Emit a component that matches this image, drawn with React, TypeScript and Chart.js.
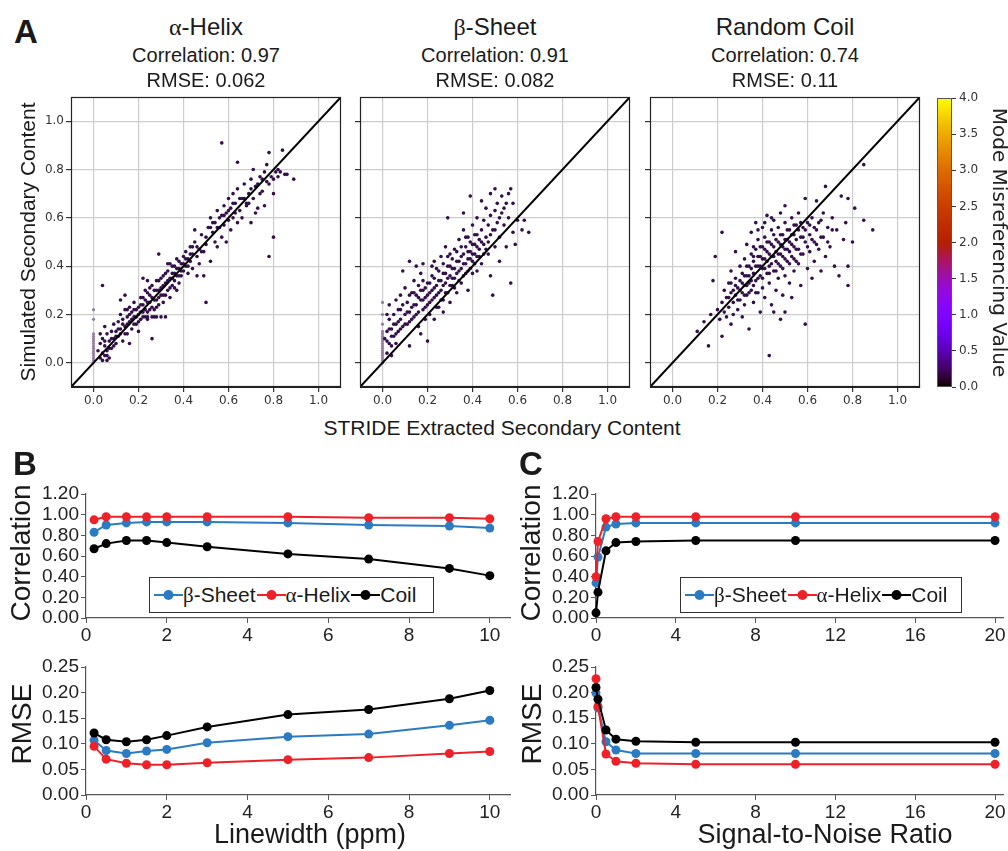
import React, { useEffect, useRef } from "react";
import { Chart, registerables } from "chart.js";
Chart.register(...registerables);

// ---------------- data ----------------
const scatterTicks = [0, 0.2, 0.4, 0.6, 0.8, 1.0];
const diagonal = [-0.1, 1.1];
const colorbarTicks = [0, 0.5, 1, 1.5, 2, 2.5, 3, 3.5, 4];
const colorbarRange = [0, 4];

const helixZeroY = [0.0, 0.01, 0.02, 0.03, 0.04, 0.05, 0.06, 0.07, 0.08, 0.09, 0.1, 0.11, 0.12, 0.18, 0.22];
const helixPoints = [
  [0.02,0.05],[0.03,0.02],[0.03,0.08],[0.04,0.04],[0.04,0.10],[0.05,0.03],[0.05,0.07],[0.06,0.12],[0.06,0.05],[0.07,0.09],
  [0.07,0.02],[0.08,0.13],[0.08,0.06],[0.09,0.10],[0.09,0.16],[0.10,0.08],[0.10,0.13],[0.05,0.15],[0.03,0.12],[0.04,0.01],
  [0.06,0.01],[0.04,0.32],
  [0.11,0.17],[0.11,0.11],[0.12,0.14],[0.12,0.20],[0.13,0.09],[0.13,0.18],[0.14,0.15],[0.14,0.22],[0.15,0.12],[0.15,0.19],
  [0.16,0.17],[0.16,0.23],[0.17,0.14],[0.17,0.21],[0.18,0.19],[0.18,0.25],[0.19,0.16],[0.19,0.22],[0.20,0.20],[0.20,0.13],
  [0.12,0.26],[0.16,0.08],[0.14,0.28],
  [0.21,0.24],[0.21,0.18],[0.22,0.27],[0.22,0.21],[0.23,0.19],[0.23,0.30],[0.24,0.25],[0.24,0.18],[0.25,0.28],[0.25,0.22],
  [0.26,0.19],[0.26,0.32],[0.27,0.26],[0.27,0.19],[0.28,0.30],[0.28,0.23],[0.29,0.34],[0.29,0.27],[0.30,0.19],[0.30,0.31],
  [0.31,0.25],[0.31,0.36],[0.26,0.10],[0.29,0.45],[0.22,0.35],[0.24,0.34],[0.22,0.19],[0.24,0.19],[0.28,0.19],[0.32,0.19],
  [0.32,0.33],[0.32,0.28],[0.33,0.38],[0.33,0.30],[0.34,0.35],[0.34,0.41],[0.35,0.32],[0.35,0.37],[0.36,0.40],[0.36,0.34],
  [0.37,0.36],[0.37,0.43],[0.38,0.39],[0.38,0.33],[0.39,0.41],[0.39,0.36],[0.40,0.38],[0.40,0.44],[0.34,0.27],[0.37,0.30],
  [0.41,0.46],[0.41,0.40],[0.42,0.43],[0.42,0.37],[0.43,0.48],[0.43,0.42],[0.44,0.45],[0.44,0.39],[0.45,0.50],[0.45,0.55],
  [0.46,0.44],[0.46,0.36],[0.47,0.47],[0.47,0.41],[0.48,0.53],[0.49,0.46],[0.49,0.36],[0.50,0.25],[0.50,0.49],[0.51,0.56],
  [0.52,0.42],
  [0.52,0.60],[0.53,0.54],[0.54,0.50],[0.54,0.58],[0.55,0.63],[0.55,0.48],[0.56,0.56],[0.57,0.61],[0.57,0.52],[0.58,0.65],
  [0.58,0.57],[0.59,0.62],[0.60,0.59],[0.60,0.68],[0.57,0.91],[0.59,0.50],
  [0.61,0.64],[0.61,0.55],[0.62,0.70],[0.62,0.60],[0.63,0.66],[0.64,0.58],[0.64,0.72],[0.65,0.63],[0.66,0.68],[0.66,0.60],
  [0.67,0.74],[0.68,0.65],[0.69,0.70],[0.70,0.58],[0.70,0.76],[0.71,0.68],[0.71,0.80],[0.72,0.73],[0.73,0.64],[0.74,0.77],
  [0.75,0.71],[0.76,0.79],[0.76,0.65],[0.77,0.82],[0.78,0.44],[0.78,0.74],[0.79,0.77],[0.80,0.52],[0.80,0.70],[0.81,0.79],
  [0.82,0.80],[0.83,0.79],[0.84,0.88],[0.85,0.78],[0.86,0.78],[0.89,0.76],[0.78,0.87],[0.64,0.83],[0.68,0.66],[0.72,0.62],
  [0.05,0.09],[0.06,0.03],[0.07,0.06],[0.08,0.10],[0.09,0.07],[0.10,0.11],[0.11,0.14],[0.12,0.12],[0.13,0.16],[0.14,0.12],
  [0.15,0.16],[0.15,0.22],[0.16,0.20],[0.17,0.18],[0.18,0.16],[0.18,0.22],[0.19,0.19],[0.20,0.23],[0.20,0.17],[0.21,0.21],
  [0.21,0.27],[0.22,0.24],[0.23,0.22],[0.23,0.26],[0.24,0.21],[0.24,0.29],[0.25,0.25],[0.25,0.31],[0.26,0.23],[0.26,0.27],
  [0.27,0.30],[0.27,0.22],[0.28,0.26],[0.28,0.34],[0.29,0.30],[0.29,0.24],[0.30,0.28],[0.30,0.35],[0.31,0.32],[0.31,0.28],
  [0.32,0.37],[0.33,0.34],[0.33,0.41],[0.34,0.31],[0.35,0.40],[0.35,0.35],[0.36,0.37],[0.36,0.31],[0.37,0.39],[0.38,0.42],
  [0.38,0.36],[0.39,0.38],[0.40,0.41],[0.41,0.43],[0.42,0.40],[0.43,0.45],[0.44,0.48],[0.46,0.48],[0.48,0.46],[0.50,0.52],
  [0.52,0.56],[0.53,0.58],[0.55,0.56],[0.56,0.60],[0.58,0.61],[0.60,0.63],[0.62,0.66],[0.63,0.62],[0.65,0.68],[0.67,0.68],
  [0.69,0.66],[0.70,0.72],[0.73,0.74],[0.74,0.70],[0.75,0.76],[0.77,0.75],[0.80,0.76],[0.82,0.77],
];

const sheetZeroY = [0.0, 0.01, 0.02, 0.03, 0.04, 0.05, 0.06, 0.07, 0.08, 0.09, 0.1, 0.11, 0.12, 0.13, 0.16, 0.2, 0.25];
const sheetPoints = [
  [0.01,0.10],[0.02,0.04],[0.02,0.13],[0.03,0.08],[0.03,0.18],[0.04,0.07],[0.04,0.14],[0.05,0.11],[0.05,0.20],[0.06,0.16],
  [0.06,0.08],[0.07,0.22],[0.07,0.13],[0.08,0.18],[0.08,0.28],[0.09,0.15],[0.09,0.24],[0.10,0.20],[0.10,0.31],[0.04,0.03],
  [0.02,0.20],[0.09,0.38],[0.03,0.24],[0.06,0.26],
  [0.11,0.25],[0.11,0.16],[0.12,0.21],[0.12,0.42],[0.12,0.07],[0.13,0.29],[0.13,0.18],[0.14,0.24],[0.14,0.34],[0.15,0.20],
  [0.15,0.28],[0.16,0.15],[0.16,0.32],[0.17,0.26],[0.17,0.12],[0.17,0.37],[0.18,0.22],[0.18,0.30],[0.19,0.27],[0.19,0.18],
  [0.20,0.33],[0.20,0.24],[0.20,0.09],[0.15,0.40],[0.18,0.41],
  [0.21,0.29],[0.21,0.20],[0.22,0.36],[0.22,0.26],[0.23,0.31],[0.23,0.18],[0.24,0.39],[0.24,0.28],[0.25,0.34],[0.25,0.23],
  [0.26,0.44],[0.26,0.30],[0.27,0.37],[0.27,0.26],[0.28,0.33],[0.28,0.48],[0.29,0.40],[0.29,0.29],[0.29,0.60],[0.30,0.36],
  [0.30,0.45],[0.30,0.25],[0.27,0.21],[0.23,0.42],
  [0.31,0.39],[0.31,0.32],[0.32,0.47],[0.32,0.35],[0.33,0.42],[0.33,0.29],[0.34,0.51],[0.34,0.38],[0.35,0.44],[0.35,0.33],
  [0.36,0.41],[0.36,0.62],[0.36,0.55],[0.37,0.48],[0.37,0.37],[0.38,0.52],[0.38,0.43],[0.38,0.30],[0.39,0.69],[0.39,0.46],
  [0.39,0.39],[0.40,0.49],[0.40,0.42],[0.40,0.57],
  [0.41,0.53],[0.41,0.45],[0.42,0.60],[0.42,0.48],[0.42,0.38],[0.43,0.51],[0.43,0.44],[0.44,0.67],[0.44,0.55],[0.44,0.41],
  [0.45,0.49],[0.45,0.59],[0.46,0.64],[0.46,0.52],[0.47,0.45],[0.47,0.57],[0.48,0.61],[0.48,0.36],[0.49,0.55],[0.49,0.28],
  [0.50,0.72],[0.50,0.63],[0.50,0.48],
  [0.51,0.58],[0.51,0.66],[0.52,0.52],[0.53,0.62],[0.53,0.69],[0.54,0.57],[0.55,0.48],[0.55,0.66],[0.56,0.60],[0.56,0.70],
  [0.57,0.72],[0.57,0.33],[0.58,0.54],[0.58,0.66],[0.59,0.49],[0.60,0.59],[0.62,0.55],[0.63,0.59],[0.65,0.54],[0.52,0.42],
  [0.48,0.70],
  [0.02,0.09],[0.03,0.14],[0.04,0.11],[0.05,0.16],[0.06,0.12],[0.07,0.17],[0.08,0.14],[0.08,0.22],[0.10,0.16],[0.11,0.21],
  [0.12,0.17],[0.12,0.28],[0.13,0.23],[0.14,0.19],[0.14,0.29],[0.15,0.24],[0.16,0.27],[0.16,0.21],[0.17,0.30],[0.18,0.26],
  [0.18,0.34],[0.19,0.23],[0.19,0.31],[0.20,0.28],[0.21,0.33],[0.21,0.25],[0.22,0.30],[0.22,0.40],[0.23,0.27],[0.23,0.35],
  [0.24,0.32],[0.24,0.23],[0.25,0.38],[0.25,0.29],[0.26,0.34],[0.26,0.26],[0.27,0.32],[0.27,0.41],[0.28,0.37],[0.28,0.29],
  [0.29,0.35],[0.29,0.44],[0.30,0.32],[0.30,0.40],[0.31,0.35],[0.31,0.43],[0.32,0.39],[0.32,0.31],[0.33,0.46],[0.33,0.37],
  [0.34,0.42],[0.34,0.34],[0.35,0.48],[0.35,0.39],[0.36,0.45],[0.36,0.36],[0.37,0.41],[0.37,0.52],[0.38,0.46],[0.38,0.38],
  [0.39,0.43],[0.39,0.50],[0.40,0.45],[0.40,0.37],[0.41,0.49],[0.41,0.41],[0.42,0.44],[0.42,0.53],[0.43,0.47],[0.44,0.50],
  [0.45,0.45],[0.46,0.47],[0.47,0.50],[0.48,0.53],[0.50,0.55],[0.52,0.60],[0.54,0.64],
];

const coilPoints = [
  [0.11,0.13],[0.14,0.17],[0.16,0.07],[0.17,0.20],[0.18,0.34],[0.19,0.44],[0.20,0.22],[0.21,0.18],[0.22,0.54],[0.22,0.11],
  [0.22,0.25],[0.23,0.30],[0.23,0.21],[0.24,0.27],[0.24,0.19],[0.25,0.33],[0.25,0.23],[0.26,0.29],[0.26,0.16],[0.26,0.38],
  [0.27,0.25],[0.27,0.20],[0.28,0.35],[0.28,0.28],[0.28,0.46],[0.29,0.31],[0.29,0.22],[0.30,0.40],[0.30,0.26],[0.30,0.34],
  [0.31,0.29],[0.31,0.37],[0.31,0.19],[0.32,0.43],[0.32,0.32],[0.32,0.24],[0.33,0.36],[0.33,0.28],[0.33,0.49],[0.34,0.40],
  [0.34,0.33],[0.34,0.14],[0.35,0.45],[0.35,0.30],[0.35,0.54],[0.36,0.37],[0.36,0.42],[0.36,0.25],[0.37,0.47],[0.37,0.34],
  [0.37,0.58],[0.38,0.40],[0.38,0.29],[0.38,0.51],[0.39,0.44],[0.39,0.36],[0.39,0.21],[0.40,0.48],[0.40,0.39],[0.40,0.56],
  [0.40,0.31],[0.41,0.43],[0.41,0.52],[0.41,0.27],[0.42,0.46],[0.42,0.37],[0.42,0.61],[0.43,0.50],[0.43,0.40],[0.43,0.03],
  [0.43,0.33],[0.44,0.55],[0.44,0.44],[0.44,0.24],[0.45,0.48],[0.45,0.38],[0.45,0.59],[0.46,0.42],[0.46,0.51],[0.46,0.30],
  [0.47,0.56],[0.47,0.45],[0.47,0.35],[0.48,0.49],[0.48,0.62],[0.48,0.40],[0.49,0.53],[0.49,0.44],[0.49,0.28],[0.50,0.47],
  [0.50,0.58],[0.50,0.65],[0.50,0.36],[0.51,0.51],[0.51,0.42],[0.52,0.55],[0.52,0.46],[0.52,0.33],[0.53,0.60],[0.53,0.49],
  [0.54,0.43],[0.54,0.53],[0.54,0.38],[0.55,0.57],[0.55,0.47],[0.56,0.62],[0.56,0.41],[0.57,0.52],[0.57,0.32],[0.58,0.56],
  [0.58,0.45],[0.59,0.68],[0.59,0.16],[0.59,0.50],[0.60,0.58],[0.60,0.39],[0.61,0.53],[0.61,0.46],[0.62,0.60],[0.62,0.35],
  [0.63,0.50],[0.63,0.42],[0.64,0.67],[0.64,0.55],[0.65,0.47],[0.66,0.38],[0.66,0.59],[0.67,0.52],[0.68,0.73],[0.68,0.44],
  [0.69,0.56],[0.70,0.48],[0.71,0.60],[0.72,0.40],[0.73,0.55],[0.74,0.36],[0.75,0.69],[0.76,0.51],[0.77,0.58],[0.78,0.40],
  [0.78,0.32],[0.78,0.68],[0.80,0.50],[0.81,0.64],[0.85,0.59],[0.85,0.82],[0.89,0.55],[0.50,0.21],[0.53,0.27],[0.48,0.18],
  [0.45,0.21],
  [0.28,0.32],[0.29,0.26],[0.30,0.30],[0.31,0.33],[0.32,0.28],[0.32,0.36],[0.33,0.32],[0.33,0.40],[0.34,0.36],[0.34,0.29],
  [0.35,0.39],[0.35,0.34],[0.36,0.44],[0.36,0.32],[0.37,0.40],[0.37,0.29],[0.38,0.44],[0.38,0.35],[0.39,0.48],[0.39,0.40],
  [0.40,0.43],[0.40,0.35],[0.41,0.47],[0.41,0.39],[0.42,0.50],[0.42,0.42],[0.43,0.45],[0.43,0.37],[0.44,0.49],[0.44,0.41],
  [0.45,0.53],[0.45,0.44],[0.46,0.46],[0.46,0.38],[0.47,0.50],[0.47,0.41],[0.48,0.53],[0.48,0.45],[0.49,0.48],[0.49,0.39],
  [0.50,0.51],[0.50,0.43],[0.51,0.55],[0.51,0.47],[0.52,0.50],[0.52,0.41],[0.53,0.53],[0.53,0.44],[0.54,0.57],[0.54,0.48],
  [0.55,0.51],[0.55,0.42],[0.56,0.55],[0.56,0.47],[0.57,0.58],[0.57,0.45],[0.58,0.52],[0.59,0.55],[0.60,0.48],[0.61,0.57],
  [0.62,0.51],[0.63,0.56],[0.64,0.49],[0.65,0.58],[0.66,0.52],[0.67,0.62],[0.69,0.50],[0.71,0.55],[0.36,0.48],[0.38,0.55],
  [0.41,0.58],[0.44,0.60],[0.26,0.33],[0.27,0.30],[0.25,0.27],
];

const linewidths = [0.2, 0.5, 1, 1.5, 2, 3, 5, 7, 9, 10];
const lwCorrSheet = [0.83, 0.90, 0.92, 0.93, 0.93, 0.93, 0.92, 0.90, 0.89, 0.87];
const lwCorrHelix = [0.95, 0.98, 0.98, 0.98, 0.98, 0.98, 0.98, 0.97, 0.97, 0.96];
const lwCorrCoil = [0.67, 0.72, 0.75, 0.75, 0.73, 0.69, 0.62, 0.57, 0.48, 0.41];
const lwRmseSheet = [0.107, 0.087, 0.081, 0.086, 0.089, 0.102, 0.114, 0.119, 0.136, 0.146];
const lwRmseHelix = [0.095, 0.070, 0.062, 0.059, 0.059, 0.063, 0.069, 0.073, 0.081, 0.085];
const lwRmseCoil = [0.121, 0.108, 0.104, 0.108, 0.116, 0.133, 0.157, 0.167, 0.188, 0.204];

const snr = [0, 0.1, 0.5, 1, 2, 5, 10, 20];
const snrCorrSheet = [0.34, 0.59, 0.88, 0.91, 0.92, 0.92, 0.92, 0.92];
const snrCorrHelix = [0.40, 0.74, 0.96, 0.98, 0.98, 0.98, 0.98, 0.98];
const snrCorrCoil = [0.05, 0.25, 0.65, 0.73, 0.74, 0.75, 0.75, 0.75];
const snrRmseSheet = [0.199, 0.170, 0.104, 0.088, 0.081, 0.081, 0.081, 0.081];
const snrRmseHelix = [0.227, 0.173, 0.080, 0.066, 0.062, 0.060, 0.060, 0.060];
const snrRmseCoil = [0.210, 0.187, 0.127, 0.109, 0.105, 0.103, 0.103, 0.103];

const lwTicks = [0, 2, 4, 6, 8, 10];
const snrTicks = [0, 4, 8, 12, 16, 20];
const corrTicks = [0, 0.2, 0.4, 0.6, 0.8, 1.0, 1.2];
const rmseTicks = [0, 0.05, 0.1, 0.15, 0.2, 0.25];

const seriesNames = ["β-Sheet", "α-Helix", "Coil"];
const seriesColors = ["#2b7bc3", "#ee2128", "#000000"];

// ---------------- helpers ----------------
const SANS = "'Liberation Sans', Arial, Helvetica, sans-serif";
const DEJAVU = "'DejaVu Sans', sans-serif";

type Box = { x: number; y: number; w: number; h: number };
type Area = { l: number; t: number; r: number; b: number };

function gnuplot(t: number) {
  const r = Math.sqrt(t);
  const g = t * t * t;
  const b = Math.max(0, Math.sin(2 * Math.PI * t));
  return `rgb(${Math.round(r * 255)},${Math.round(g * 255)},${Math.round(b * 255)})`;
}

const framePlugin = (color: string, width: number) => ({
  id: "frame",
  afterDatasetsDraw(chart: any) {
    const { ctx, chartArea: a } = chart;
    ctx.save();
    ctx.strokeStyle = color;
    ctx.lineWidth = width;
    ctx.strokeRect(a.left + 0.5, a.top + 0.5, a.right - a.left - 1, a.bottom - a.top - 1);
    ctx.restore();
  },
});

function fitScales(box: Box, area: Area) {
  return {
    padding: { left: 0, top: area.t - box.y, right: box.x + box.w - area.r, bottom: 0 },
    yW: area.l - box.x,
    xH: box.y + box.h - area.b,
  };
}

function scatterConfig(box: Box, area: Area, points: number[][], zeroY: number[], yLabels: boolean) {
  const f = fitScales(box, area);
  const tickFont = { family: DEJAVU, size: 12 };
  return {
    type: "scatter",
    data: {
      datasets: [
        {
          data: diagonal.map((v) => ({ x: v, y: v })),
          showLine: true,
          borderColor: "#000",
          borderWidth: 2,
          pointRadius: 0,
          order: 0,
        },
        {
          data: points.map(([x, y]) => ({ x, y })),
          pointRadius: 1.8,
          backgroundColor: "#34104a",
          borderWidth: 0,
          order: 1,
        },
        {
          data: zeroY.map((y) => ({ x: 0, y })),
          pointRadius: 1.6,
          backgroundColor: "rgba(140,118,150,0.9)",
          borderWidth: 0,
          order: 2,
        },
      ],
    },
    options: {
      animation: false,
      responsive: false,
      devicePixelRatio: 1,
      layout: { padding: f.padding },
      plugins: { legend: { display: false }, tooltip: { enabled: false } },
      scales: {
        x: {
          type: "linear",
          min: -0.1,
          max: 1.1,
          afterBuildTicks: (s: any) => {
            s.ticks = scatterTicks.map((v) => ({ value: v }));
          },
          afterFit: (s: any) => {
            s.height = f.xH;
            s.paddingLeft = 0;
            s.paddingRight = 0;
          },
          ticks: { callback: (v: any) => Number(v).toFixed(1), font: tickFont, color: "#333", padding: 2, maxRotation: 0, autoSkip: false },
          grid: { color: "#cdcdcd", lineWidth: 1.2, tickLength: 5, tickColor: "#333" },
          border: { color: "#222", width: 1 },
        },
        y: {
          type: "linear",
          min: -0.1,
          max: 1.1,
          afterBuildTicks: (s: any) => {
            s.ticks = scatterTicks.map((v) => ({ value: v }));
          },
          afterFit: (s: any) => {
            s.width = f.yW;
            s.paddingTop = 0;
            s.paddingBottom = 0;
          },
          ticks: {
            callback: (v: any) => (yLabels ? Number(v).toFixed(1) : ""),
            font: tickFont,
            color: "#333",
            padding: 2,
            autoSkip: false,
          },
          grid: { color: "#cdcdcd", lineWidth: 1.2, tickLength: 5, tickColor: "#333" },
          border: { color: "#222", width: 1 },
        },
      },
    },
    plugins: [framePlugin("#222", 1.2)],
  };
}

function colorbarConfig(box: Box, area: Area) {
  return {
    type: "bar",
    data: {
      labels: [""],
      datasets: [
        {
          data: [colorbarRange],
          barPercentage: 1,
          categoryPercentage: 1,
          borderWidth: 0,
          backgroundColor: (ctx: any) => {
            const ca = ctx.chart.chartArea;
            if (!ca) return "#000";
            const g = ctx.chart.ctx.createLinearGradient(0, ca.bottom, 0, ca.top);
            for (let i = 0; i <= 48; i++) g.addColorStop(i / 48, gnuplot(i / 48));
            return g;
          },
        },
      ],
    },
    options: {
      animation: false,
      responsive: false,
      devicePixelRatio: 1,
      layout: { padding: { left: area.l - box.x, top: area.t - box.y, bottom: box.y + box.h - area.b, right: 0 } },
      plugins: { legend: { display: false }, tooltip: { enabled: false } },
      scales: {
        x: { display: false },
        y: {
          position: "right",
          min: 0,
          max: 4,
          afterBuildTicks: (s: any) => {
            s.ticks = colorbarTicks.map((v) => ({ value: v }));
          },
          afterFit: (s: any) => {
            s.width = box.x + box.w - area.r;
            s.paddingTop = 0;
            s.paddingBottom = 0;
          },
          ticks: { callback: (v: any) => Number(v).toFixed(1), font: { family: DEJAVU, size: 12 }, color: "#333", padding: 3, autoSkip: false },
          grid: { drawOnChartArea: false, tickLength: 4, tickColor: "#333" },
          border: { display: false },
          title: {
            display: true,
            text: "Mode Misreferencing Value",
            font: { family: DEJAVU, size: 20, lineHeight: 1 },
            color: "#222",
            padding: 0,
          },
        },
      },
    },
    plugins: [framePlugin("#555", 1)],
  };
}

function lineConfig(
  box: Box,
  area: Area,
  xs: number[],
  series: number[][],
  xMax: number,
  xTicks: number[],
  yMax: number,
  yTicks: number[]
) {
  const f = fitScales(box, area);
  const tickFont = { family: SANS, size: 19 };
  return {
    type: "scatter",
    data: {
      datasets: series.map((ys, i) => ({
        label: seriesNames[i],
        data: xs.map((x, j) => ({ x, y: ys[j] })),
        showLine: true,
        borderColor: seriesColors[i],
        backgroundColor: seriesColors[i],
        borderWidth: 2,
        pointRadius: 4.5,
        pointBorderWidth: 0,
        order: 3 - i,
      })),
    },
    options: {
      animation: false,
      responsive: false,
      devicePixelRatio: 1,
      clip: false,
      layout: { padding: f.padding },
      plugins: { legend: { display: false }, tooltip: { enabled: false } },
      scales: {
        x: {
          type: "linear",
          min: 0,
          max: xMax,
          afterBuildTicks: (s: any) => {
            s.ticks = xTicks.map((v) => ({ value: v }));
          },
          afterFit: (s: any) => {
            s.height = f.xH;
            s.paddingLeft = 0;
            s.paddingRight = 0;
          },
          ticks: { callback: (v: any) => String(v), font: tickFont, color: "#222", padding: 1, maxRotation: 0, autoSkip: false },
          grid: { drawOnChartArea: false, tickLength: 5, tickColor: "#555" },
          border: { color: "#555", width: 1.2 },
        },
        y: {
          type: "linear",
          min: 0,
          max: yMax,
          afterBuildTicks: (s: any) => {
            s.ticks = yTicks.map((v) => ({ value: v }));
          },
          afterFit: (s: any) => {
            s.width = f.yW;
            s.paddingTop = 0;
            s.paddingBottom = 0;
          },
          ticks: { callback: (v: any) => Number(v).toFixed(2), font: tickFont, color: "#222", padding: 2, autoSkip: false },
          grid: { drawOnChartArea: false, tickLength: 5, tickColor: "#555" },
          border: { color: "#555", width: 1.2 },
        },
      },
    },
  };
}

function ChartCanvas({ box, make }: { box: Box; make: () => any }) {
  const ref = useRef<HTMLCanvasElement>(null);
  useEffect(() => {
    const chart = new Chart(ref.current as HTMLCanvasElement, make());
    return () => chart.destroy();
  }, []);
  return (
    <canvas
      ref={ref}
      width={box.w}
      height={box.h}
      style={{ position: "absolute", left: box.x, top: box.y, width: box.w, height: box.h }}
    />
  );
}

function Txt({ x, y, size, children, bold, center, rotate, family }: any) {
  const style: any = {
    position: "absolute",
    left: x,
    top: y,
    fontSize: size,
    fontFamily: family || SANS,
    fontWeight: bold ? "bold" : "normal",
    lineHeight: 1,
    whiteSpace: "nowrap",
    color: "#1a1a1a",
  };
  if (rotate) style.transform = "translate(-50%,-50%) rotate(-90deg)";
  else if (center) style.transform = "translateX(-50%)";
  return <div style={style}>{children}</div>;
}

function Legend({ x, y, w }: { x: number; y: number; w: number }) {
  return (
    <div
      style={{
        position: "absolute",
        left: x,
        top: y,
        width: w,
        height: 36,
        boxSizing: "border-box",
        border: "1.5px solid #333",
        background: "#fff",
        display: "flex",
        alignItems: "center",
        paddingLeft: 4,
        fontFamily: SANS,
        fontSize: 21,
        color: "#1a1a1a",
        whiteSpace: "nowrap",
      }}
    >
      {seriesNames.map((n, i) => (
        <div key={n} style={{ display: "flex", alignItems: "center", marginRight: 1, flexShrink: 0, whiteSpace: "nowrap" }}>
          <svg width={29} height={14} style={{ display: "block", flexShrink: 0 }}>
            <line x1={0} y1={7} x2={29} y2={7} stroke={seriesColors[i]} strokeWidth={2} />
            <circle cx={14.5} cy={7} r={5} fill={seriesColors[i]} />
          </svg>
          <span style={{ whiteSpace: "nowrap" }}>
            {n.startsWith("β") || n.startsWith("α") ? (
              <>
                <span style={{ fontFamily: "'Liberation Serif', serif" }}>{n[0]}</span>
                {n.slice(1)}
              </>
            ) : (
              n
            )}
          </span>
        </div>
      ))}
    </div>
  );
}

const greek = (s: string) => <span style={{ fontFamily: "'Liberation Serif', 'DejaVu Serif', serif" }}>{s}</span>;

export default function App() {
  const s1: Box = { x: 36, y: 90, w: 310, h: 326 };
  const a1: Area = { l: 71, t: 97, r: 341, b: 387 };
  const s2: Box = { x: 350, y: 90, w: 285, h: 326 };
  const a2: Area = { l: 360, t: 97, r: 630, b: 387 };
  const s3: Box = { x: 640, y: 90, w: 285, h: 326 };
  const a3: Area = { l: 650, t: 97, r: 920, b: 387 };
  const cb: Box = { x: 930, y: 90, w: 78, h: 305 };
  const cba: Area = { l: 937, t: 98, r: 952, b: 387 };

  const bTop: Box = { x: 30, y: 478, w: 490, h: 170 };
  const bTopA: Area = { l: 86, t: 494, r: 510, b: 618 };
  const bBot: Box = { x: 30, y: 652, w: 490, h: 171 };
  const bBotA: Area = { l: 86, t: 667, r: 510, b: 795 };
  const cTop: Box = { x: 540, y: 478, w: 468, h: 170 };
  const cTopA: Area = { l: 596, t: 494, r: 1003, b: 618 };
  const cBot: Box = { x: 540, y: 652, w: 468, h: 171 };
  const cBotA: Area = { l: 596, t: 667, r: 1003, b: 795 };

  return (
    <div style={{ position: "absolute", left: 0, top: 0, width: 1008, height: 851, overflow: "hidden", background: "#fff" }}>
      <ChartCanvas box={s1} make={() => scatterConfig(s1, a1, helixPoints, helixZeroY, true)} />
      <ChartCanvas box={s2} make={() => scatterConfig(s2, a2, sheetPoints, sheetZeroY, false)} />
      <ChartCanvas box={s3} make={() => scatterConfig(s3, a3, coilPoints, [], false)} />
      <ChartCanvas box={cb} make={() => colorbarConfig(cb, cba)} />

      <ChartCanvas
        box={bTop}
        make={() => lineConfig(bTop, bTopA, linewidths, [lwCorrSheet, lwCorrHelix, lwCorrCoil], 10.5, lwTicks, 1.2, corrTicks)}
      />
      <ChartCanvas
        box={bBot}
        make={() => lineConfig(bBot, bBotA, linewidths, [lwRmseSheet, lwRmseHelix, lwRmseCoil], 10.5, lwTicks, 0.25, rmseTicks)}
      />
      <ChartCanvas
        box={cTop}
        make={() => lineConfig(cTop, cTopA, snr, [snrCorrSheet, snrCorrHelix, snrCorrCoil], 20.4, snrTicks, 1.2, corrTicks)}
      />
      <ChartCanvas
        box={cBot}
        make={() => lineConfig(cBot, cBotA, snr, [snrRmseSheet, snrRmseHelix, snrRmseCoil], 20.4, snrTicks, 0.25, rmseTicks)}
      />

      <Txt x={14} y={15} size={33} bold>A</Txt>
      <Txt x={206} y={15} size={24} center>{greek("α")}-Helix</Txt>
      <Txt x={206} y={45} size={20} center>Correlation: 0.97</Txt>
      <Txt x={206} y={70} size={20} center>RMSE: 0.062</Txt>
      <Txt x={495} y={15} size={24} center>{greek("β")}-Sheet</Txt>
      <Txt x={495} y={45} size={20} center>Correlation: 0.91</Txt>
      <Txt x={495} y={70} size={20} center>RMSE: 0.082</Txt>
      <Txt x={785} y={15} size={24} center>Random Coil</Txt>
      <Txt x={785} y={45} size={20} center>Correlation: 0.74</Txt>
      <Txt x={785} y={70} size={20} center>RMSE: 0.11</Txt>
      <Txt x={27} y={242} size={21} rotate>Simulated Secondary Content</Txt>
      <Txt x={502} y={417} size={21} center>STRIDE Extracted Secondary Content</Txt>

      <Txt x={13} y={447} size={33} bold>B</Txt>
      <Txt x={519} y={447} size={33} bold>C</Txt>
      <Txt x={21} y={553} size={28} rotate>Correlation</Txt>
      <Txt x={22} y={724} size={28} rotate>RMSE</Txt>
      <Txt x={531} y={553} size={28} rotate>Correlation</Txt>
      <Txt x={532} y={724} size={28} rotate>RMSE</Txt>
      <Txt x={310} y={821} size={27} center>Linewidth (ppm)</Txt>
      <Txt x={825} y={821} size={27} center>Signal-to-Noise Ratio</Txt>

      <Legend x={149} y={577} w={285} />
      <Legend x={680} y={577} w={282} />
    </div>
  );
}
